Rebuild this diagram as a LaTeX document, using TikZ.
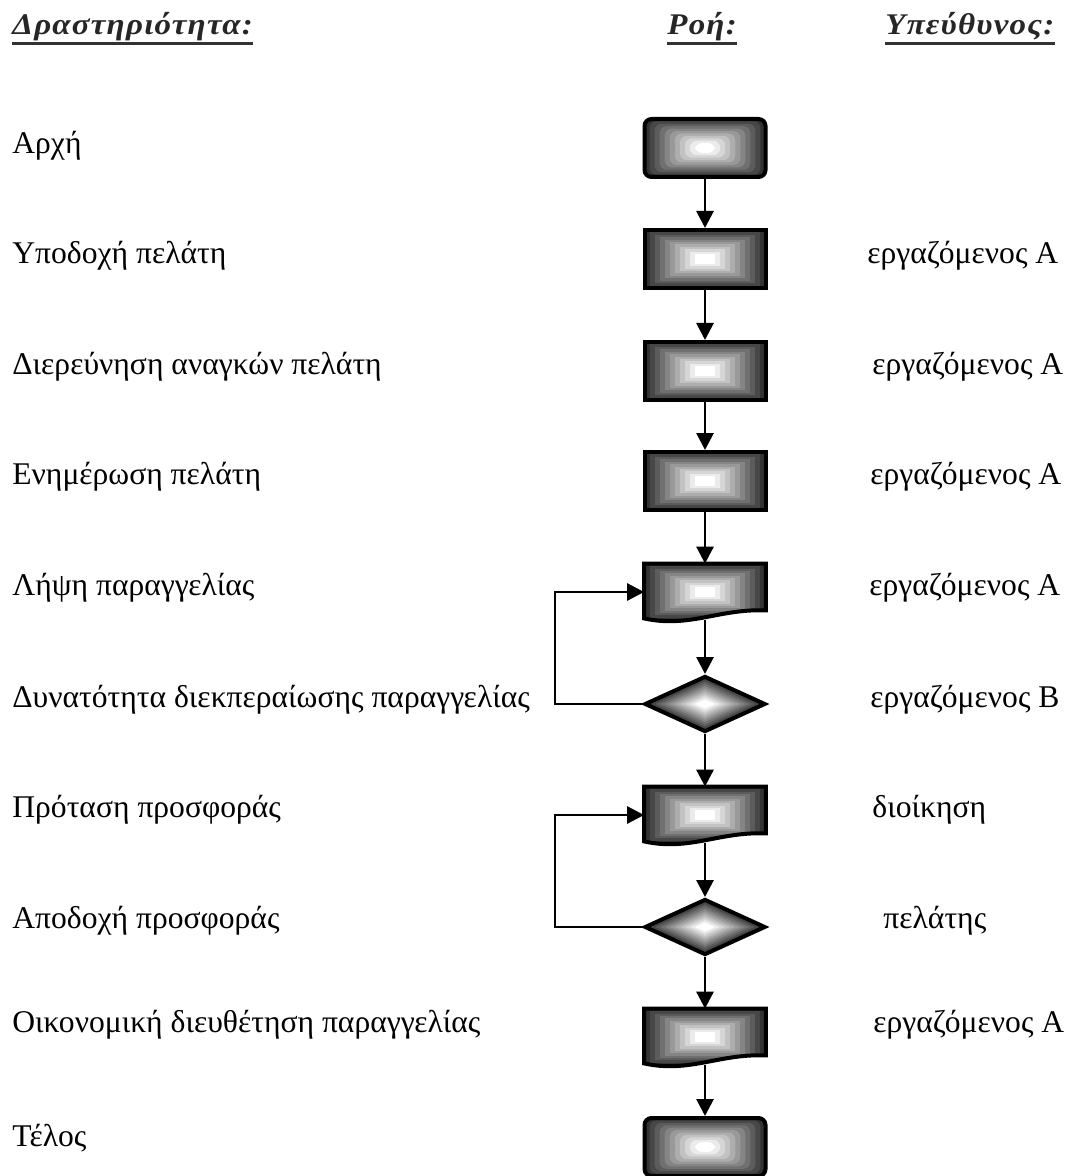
\documentclass[tikz,border=0pt]{standalone}
\usepackage{fontspec}
\setmainfont{Liberation Serif}
\newfontfamily\headfont[FakeStretch=1.1,LetterSpace=4]{Liberation Serif}
\usetikzlibrary{shapes.geometric,arrows.meta,calc}

% stepped grey bands, dark at the rim and white in the middle
\newcommand\rectbands{%
  \foreach \k in {0,...,10}{%
    \pgfmathsetmacro\bandfr{1-\k/12}%
    \pgfmathsetmacro\bandgr{80-8*\k}%
    \fill[black!\bandgr]
      ($(path picture bounding box.center)!\bandfr!(path picture bounding box.south west)$)
      rectangle
      ($(path picture bounding box.center)!\bandfr!(path picture bounding box.north east)$);
  }}
\newcommand\diabands{%
  \foreach \k in {0,...,10}{%
    \pgfmathsetmacro\bandfr{1-\k/12}%
    \pgfmathsetmacro\bandgr{80-8*\k}%
    \fill[black!\bandgr]
      ($(path picture bounding box.center)!\bandfr!(path picture bounding box.west)$) --
      ($(path picture bounding box.center)!\bandfr!(path picture bounding box.north)$) --
      ($(path picture bounding box.center)!\bandfr!(path picture bounding box.east)$) --
      ($(path picture bounding box.center)!\bandfr!(path picture bounding box.south)$) -- cycle;
  }}
% document outline with a wavy bottom: #1 = command, #2 = node
\newcommand\docpath[2]{%
  #1 ([yshift=1pt]#2.south west)
     .. controls ([shift={(22.5pt,-4pt)}]#2.south west)
        and ([shift={(37.5pt,6pt)}]#2.south west) ..
     ([yshift=5pt]#2.south east) -- (#2.north east) -- (#2.north west) -- cycle;}

\tikzset{
  activity/.style={anchor=base west,inner sep=0pt,font=\fontsize{15.8}{19}\selectfont},
  owner/.style={activity},
  heading/.style={anchor=base west,inner sep=0pt,text=black!85,
    font=\headfont\fontsize{15}{18}\selectfont\bfseries\itshape},
  uline/.style={line width=1.5pt,black!80},
  outline/.style={line width=2pt,line join=miter},
  procbox/.style={rectangle,draw,outline,minimum width=60.5pt,minimum height=29pt,
    inner sep=0pt,path picture={\rectbands}},
  termbox/.style={procbox,rounded corners=3.5pt},
  docbox/.style={rectangle,minimum width=60.5pt,minimum height=28pt,inner sep=0pt,
    path picture={\docpath{\clip}{path picture bounding box}\rectbands}},
  decbox/.style={diamond,draw,outline,minimum width=60.5pt,minimum height=28pt,
    inner sep=0pt,path picture={\diabands}},
  flow/.style={line width=1.4pt,-{Triangle[length=8.5pt,width=8.5pt]}},
}

\begin{document}
\begin{tikzpicture}[x=0.5pt,y=-0.5pt]
  \useasboundingbox (0,0) rectangle (1074,1176);

  % column headings
  \node[heading] (hact) at (12,35) {Δραστηριότητα:};
  \node[heading] (hflow) at (667,35) {Ροή:};
  \node[heading] (hown) at (885,35) {Υπεύθυνος:};
  \foreach \h in {hact,hflow,hown}
    \draw[uline] ([yshift=-4.5pt]\h.base west) -- ([yshift=-4.5pt]\h.base east);

  % flow column
  \node[termbox] (start) at (705,148) {};
  \node[procbox] (recv) at (705,259) {};
  \node[procbox] (needs) at (705,371) {};
  \node[procbox] (inform) at (705,481) {};
  \node[docbox] (order) at (705,592) {};
  \node[decbox] (feas) at (705,704) {};
  \node[docbox] (offer) at (705,815) {};
  \node[decbox] (accept) at (705,927) {};
  \node[docbox] (settle) at (705,1037) {};
  \node[termbox] (stop) at (705,1147) {};
  \foreach \d in {order,offer,settle}{
    \docpath{\draw[outline]}{\d}
  }

  \draw[flow] (start) -- (recv);
  \draw[flow] (recv) -- (needs);
  \draw[flow] (needs) -- (inform);
  \draw[flow] (inform) -- (order);
  \draw[flow] (order) -- (feas);
  \draw[flow] (feas) -- (offer);
  \draw[flow] (offer) -- (accept);
  \draw[flow] (accept) -- (settle);
  \draw[flow] (settle) -- (stop);

  % loops back
  \coordinate (back) at (555,0);
  \draw[flow,line join=miter] (feas.west) -- (feas.west -| back) |- (order.west);
  \draw[flow,line join=miter] (accept.west) -- (accept.west -| back) |- (offer.west);

  % activities
  \node[activity] (a1) at (12,154) {Αρχή};
  \node[activity] (a2) at (12,264) {Υποδοχή πελάτη};
  \node[activity] (a3) at (12,374) {Διερεύνηση αναγκών πελάτη};
  \node[activity] (a4) at (12,484) {Ενημέρωση πελάτη};
  \node[activity] (a5) at (12,595) {Λήψη παραγγελίας};
  \node[activity] (a6) at (12,707) {Δυνατότητα διεκπεραίωσης παραγγελίας};
  \node[activity] (a7) at (12,817) {Πρόταση προσφοράς};
  \node[activity] (a8) at (12,928) {Αποδοχή προσφοράς};
  \node[activity] (a9) at (12,1032) {Οικονομική διευθέτηση παραγγελίας};
  \node[activity] (a10) at (12,1146) {Τέλος};

  % who is in charge
  \node[owner] (o2) at (867,264) {εργαζόμενος Α};
  \node[owner] (o3) at (872,374) {εργαζόμενος Α};
  \node[owner] (o4) at (870,484) {εργαζόμενος Α};
  \node[owner] (o5) at (869,595) {εργαζόμενος Α};
  \node[owner] (o6) at (870,707) {εργαζόμενος Β};
  \node[owner] (o7) at (872,817) {διοίκηση};
  \node[owner] (o8) at (883,928) {πελάτης};
  \node[owner] (o9) at (873,1032) {εργαζόμενος Α};
\end{tikzpicture}
\end{document}
